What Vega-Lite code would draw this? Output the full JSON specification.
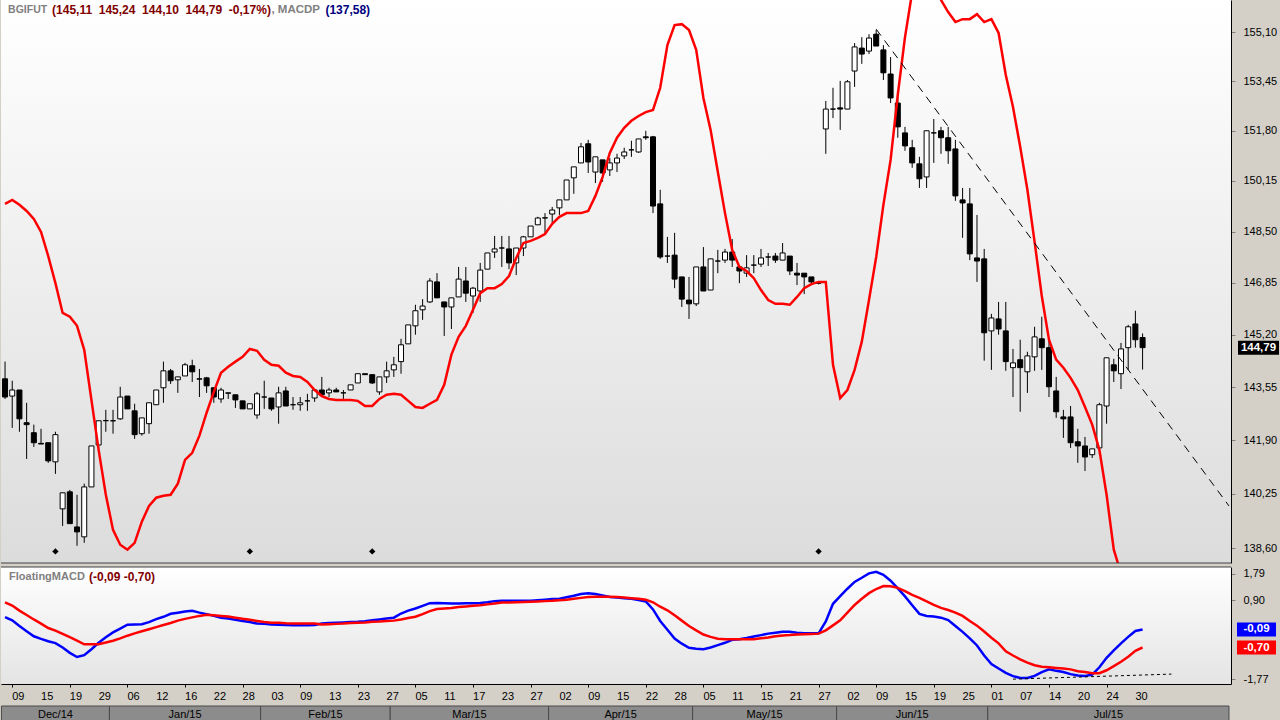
{
"$schema":"https://vega.github.io/schema/vega-lite/v6.json",
"background":"#d4d0c8",
"padding":0,
"spacing":2,
"config":{"font":"Liberation Sans","axis":{"labelFont":"Liberation Sans","labelFontSize":11,"labelColor":"#000000","domainColor":"#000000","tickColor":"#808080","grid":false,"title":null}},
"datasets":{
"bars":[
{"date":"2014-12-08","open":143.81,"high":144.35,"low":143.18,"close":143.24,"macdp":149.40,"macd":0.33,"signal":0.83},
{"date":"2014-12-09","open":143.27,"high":143.75,"low":142.28,"close":143.46,"macdp":149.53,"macd":0.22,"signal":0.72},
{"date":"2014-12-10","open":143.46,"high":143.46,"low":142.16,"close":142.56,"macdp":149.37,"macd":0.03,"signal":0.55},
{"date":"2014-12-11","open":142.44,"high":143.06,"low":141.32,"close":142.38,"macdp":149.17,"macd":-0.15,"signal":0.40},
{"date":"2014-12-12","open":142.13,"high":142.38,"low":141.69,"close":141.82,"macdp":148.91,"macd":-0.32,"signal":0.25},
{"date":"2014-12-15","open":141.80,"high":142.25,"low":141.78,"close":141.78,"macdp":148.49,"macd":-0.41,"signal":0.11},
{"date":"2014-12-16","open":141.82,"high":141.82,"low":141.20,"close":141.26,"macdp":147.71,"macd":-0.49,"signal":-0.04},
{"date":"2014-12-17","open":141.23,"high":142.16,"low":140.86,"close":142.07,"macdp":146.84,"macd":-0.55,"signal":-0.13,"sig":1},
{"date":"2014-12-18","open":139.79,"high":140.28,"low":139.27,"close":140.28,"macdp":145.89,"macd":-0.70,"signal":-0.24},
{"date":"2014-12-19","open":140.31,"high":140.37,"low":139.34,"close":139.34,"macdp":145.77,"macd":-0.88,"signal":-0.35},
{"date":"2014-12-22","open":139.24,"high":140.22,"low":138.67,"close":139.09,"macdp":145.48,"macd":-1.02,"signal":-0.47},
{"date":"2014-12-23","open":138.94,"high":140.56,"low":138.76,"close":140.46,"macdp":144.72,"macd":-0.96,"signal":-0.59},
{"date":"2014-12-26","open":140.46,"high":141.72,"low":140.46,"close":141.72,"macdp":143.15,"macd":-0.76,"signal":-0.59},
{"date":"2014-12-29","open":141.75,"high":142.50,"low":141.51,"close":142.50,"macdp":141.60,"macd":-0.54,"signal":-0.59},
{"date":"2014-12-30","open":142.50,"high":142.84,"low":142.16,"close":142.51,"macdp":140.22,"macd":-0.35,"signal":-0.53},
{"date":"2015-01-02","open":142.50,"high":142.84,"low":142.10,"close":142.50,"macdp":139.15,"macd":-0.19,"signal":-0.47},
{"date":"2015-01-05","open":142.56,"high":143.56,"low":142.53,"close":143.24,"macdp":138.70,"macd":-0.06,"signal":-0.39},
{"date":"2015-01-06","open":143.27,"high":143.27,"low":142.87,"close":142.87,"macdp":138.55,"macd":0.07,"signal":-0.30},
{"date":"2015-01-07","open":142.81,"high":143.03,"low":141.94,"close":142.07,"macdp":138.76,"macd":0.08,"signal":-0.22},
{"date":"2015-01-08","open":142.10,"high":142.59,"low":142.04,"close":142.59,"macdp":139.40,"macd":0.09,"signal":-0.15},
{"date":"2015-01-09","open":142.41,"high":143.06,"low":142.10,"close":143.06,"macdp":139.88,"macd":0.16,"signal":-0.08},
{"date":"2015-01-12","open":143.00,"high":143.46,"low":143.00,"close":143.46,"macdp":140.13,"macd":0.26,"signal":-0.01},
{"date":"2015-01-13","open":143.53,"high":144.35,"low":143.06,"close":144.06,"macdp":140.19,"macd":0.34,"signal":0.06},
{"date":"2015-01-14","open":144.06,"high":144.12,"low":143.65,"close":143.75,"macdp":140.22,"macd":0.44,"signal":0.13},
{"date":"2015-01-15","open":143.78,"high":143.87,"low":143.37,"close":143.87,"macdp":140.56,"macd":0.48,"signal":0.21},
{"date":"2015-01-16","open":143.90,"high":144.31,"low":143.90,"close":144.25,"macdp":141.29,"macd":0.52,"signal":0.27},
{"date":"2015-01-19","open":144.22,"high":144.41,"low":143.71,"close":144.03,"macdp":141.51,"macd":0.54,"signal":0.32},
{"date":"2015-01-20","open":143.81,"high":144.12,"low":143.24,"close":143.80,"macdp":142.04,"macd":0.48,"signal":0.37},
{"date":"2015-01-21","open":143.84,"high":143.87,"low":143.37,"close":143.59,"macdp":142.75,"macd":0.43,"signal":0.41},
{"date":"2015-01-22","open":143.53,"high":143.53,"low":143.06,"close":143.24,"macdp":143.40,"macd":0.37,"signal":0.39},
{"date":"2015-01-23","open":143.18,"high":143.53,"low":143.06,"close":143.46,"macdp":144.00,"macd":0.31,"signal":0.37},
{"date":"2015-01-26","open":143.37,"high":143.37,"low":143.18,"close":143.36,"macdp":144.19,"macd":0.28,"signal":0.35},
{"date":"2015-01-27","open":143.31,"high":143.31,"low":142.90,"close":143.15,"macdp":144.35,"macd":0.24,"signal":0.31},
{"date":"2015-01-28","open":143.12,"high":143.12,"low":142.87,"close":142.87,"macdp":144.50,"macd":0.20,"signal":0.27},
{"date":"2015-01-29","open":142.87,"high":143.03,"low":142.87,"close":143.03,"macdp":144.75,"macd":0.16,"signal":0.24,"sig":1},
{"date":"2015-01-30","open":142.68,"high":143.40,"low":142.56,"close":143.34,"macdp":144.69,"macd":0.11,"signal":0.20},
{"date":"2015-02-02","open":143.24,"high":143.75,"low":142.87,"close":143.24,"macdp":144.41,"macd":0.10,"signal":0.16},
{"date":"2015-02-03","open":143.21,"high":143.21,"low":142.81,"close":142.87,"macdp":144.25,"macd":0.08,"signal":0.14},
{"date":"2015-02-04","open":142.93,"high":143.56,"low":142.41,"close":143.37,"macdp":144.22,"macd":0.07,"signal":0.14},
{"date":"2015-02-05","open":143.43,"high":143.56,"low":142.96,"close":142.96,"macdp":144.00,"macd":0.06,"signal":0.12},
{"date":"2015-02-06","open":143.00,"high":143.24,"low":142.84,"close":143.00,"macdp":143.90,"macd":0.05,"signal":0.11},
{"date":"2015-02-09","open":143.00,"high":143.24,"low":142.81,"close":143.06,"macdp":143.87,"macd":0.05,"signal":0.11},
{"date":"2015-02-10","open":143.12,"high":143.34,"low":142.81,"close":143.12,"macdp":143.71,"macd":0.05,"signal":0.11},
{"date":"2015-02-11","open":143.21,"high":143.46,"low":143.09,"close":143.46,"macdp":143.46,"macd":0.06,"signal":0.11},
{"date":"2015-02-12","open":143.46,"high":143.87,"low":143.31,"close":143.31,"macdp":143.27,"macd":0.11,"signal":0.08},
{"date":"2015-02-13","open":143.37,"high":143.53,"low":143.24,"close":143.46,"macdp":143.18,"macd":0.13,"signal":0.09},
{"date":"2015-02-18","open":143.46,"high":143.53,"low":143.40,"close":143.40,"macdp":143.15,"macd":0.14,"signal":0.10},
{"date":"2015-02-19","open":143.37,"high":143.46,"low":143.18,"close":143.37,"macdp":143.15,"macd":0.15,"signal":0.11},
{"date":"2015-02-20","open":143.46,"high":143.62,"low":143.46,"close":143.62,"macdp":143.15,"macd":0.16,"signal":0.13},
{"date":"2015-02-23","open":143.68,"high":143.97,"low":143.68,"close":143.97,"macdp":143.12,"macd":0.17,"signal":0.14},
{"date":"2015-02-24","open":143.97,"high":143.97,"low":143.94,"close":143.94,"macdp":142.96,"macd":0.19,"signal":0.15},
{"date":"2015-02-25","open":143.94,"high":143.94,"low":143.65,"close":143.68,"macdp":142.96,"macd":0.22,"signal":0.17,"sig":1},
{"date":"2015-02-26","open":143.40,"high":143.87,"low":143.31,"close":143.87,"macdp":143.18,"macd":0.25,"signal":0.18},
{"date":"2015-02-27","open":143.87,"high":144.35,"low":143.68,"close":144.06,"macdp":143.31,"macd":0.28,"signal":0.20},
{"date":"2015-03-02","open":144.09,"high":144.50,"low":143.87,"close":144.25,"macdp":143.34,"macd":0.31,"signal":0.21},
{"date":"2015-03-03","open":144.35,"high":145.07,"low":143.97,"close":144.88,"macdp":143.31,"macd":0.45,"signal":0.25},
{"date":"2015-03-04","open":144.91,"high":145.51,"low":144.91,"close":145.51,"macdp":143.12,"macd":0.55,"signal":0.30},
{"date":"2015-03-05","open":145.48,"high":146.15,"low":145.20,"close":145.96,"macdp":142.93,"macd":0.62,"signal":0.34},
{"date":"2015-03-06","open":145.99,"high":146.33,"low":145.67,"close":146.11,"macdp":142.90,"macd":0.71,"signal":0.43},
{"date":"2015-03-09","open":146.24,"high":147.00,"low":146.21,"close":146.91,"macdp":143.03,"macd":0.80,"signal":0.53},
{"date":"2015-03-10","open":146.88,"high":147.16,"low":146.37,"close":146.37,"macdp":143.15,"macd":0.81,"signal":0.60},
{"date":"2015-03-11","open":146.24,"high":146.24,"low":145.16,"close":146.08,"macdp":143.62,"macd":0.80,"signal":0.62},
{"date":"2015-03-12","open":146.08,"high":146.37,"low":145.38,"close":146.37,"macdp":144.57,"macd":0.79,"signal":0.64},
{"date":"2015-03-13","open":146.40,"high":147.36,"low":146.40,"close":146.97,"macdp":145.13,"macd":0.79,"signal":0.67},
{"date":"2015-03-16","open":146.91,"high":147.36,"low":146.24,"close":146.52,"macdp":145.48,"macd":0.80,"signal":0.69},
{"date":"2015-03-17","open":146.43,"high":146.72,"low":145.89,"close":146.68,"macdp":145.99,"macd":0.80,"signal":0.71},
{"date":"2015-03-18","open":146.59,"high":147.49,"low":146.24,"close":147.26,"macdp":146.52,"macd":0.81,"signal":0.73},
{"date":"2015-03-19","open":147.29,"high":147.81,"low":147.29,"close":147.81,"macdp":146.68,"macd":0.83,"signal":0.76},
{"date":"2015-03-20","open":147.84,"high":148.36,"low":147.65,"close":147.94,"macdp":146.68,"macd":0.87,"signal":0.79},
{"date":"2015-03-23","open":147.97,"high":148.36,"low":147.36,"close":147.97,"macdp":146.81,"macd":0.88,"signal":0.82},
{"date":"2015-03-24","open":147.94,"high":148.36,"low":147.29,"close":147.49,"macdp":147.07,"macd":0.88,"signal":0.82},
{"date":"2015-03-25","open":147.49,"high":147.97,"low":147.10,"close":147.97,"macdp":147.65,"macd":0.88,"signal":0.83},
{"date":"2015-03-26","open":147.97,"high":148.36,"low":147.71,"close":148.33,"macdp":148.13,"macd":0.88,"signal":0.84},
{"date":"2015-03-27","open":148.33,"high":148.68,"low":148.33,"close":148.68,"macdp":148.20,"macd":0.88,"signal":0.85},
{"date":"2015-03-30","open":148.72,"high":148.98,"low":148.72,"close":148.94,"macdp":148.30,"macd":0.90,"signal":0.86},
{"date":"2015-03-31","open":148.94,"high":149.10,"low":148.46,"close":148.95,"macdp":148.42,"macd":0.92,"signal":0.87},
{"date":"2015-04-01","open":149.07,"high":149.30,"low":148.78,"close":149.20,"macdp":148.75,"macd":0.94,"signal":0.88},
{"date":"2015-04-02","open":149.27,"high":149.53,"low":149.04,"close":149.53,"macdp":148.98,"macd":0.95,"signal":0.90},
{"date":"2015-04-06","open":149.53,"high":150.18,"low":149.53,"close":150.18,"macdp":149.10,"macd":1.00,"signal":0.92},
{"date":"2015-04-07","open":150.25,"high":150.61,"low":149.73,"close":150.61,"macdp":149.10,"macd":1.05,"signal":0.95},
{"date":"2015-04-08","open":150.74,"high":151.40,"low":150.74,"close":151.27,"macdp":149.10,"macd":1.11,"signal":0.98},
{"date":"2015-04-09","open":151.37,"high":151.50,"low":150.41,"close":150.77,"macdp":149.17,"macd":1.14,"signal":1.01},
{"date":"2015-04-10","open":150.44,"high":150.94,"low":150.08,"close":150.94,"macdp":149.66,"macd":1.11,"signal":1.02},
{"date":"2015-04-13","open":150.84,"high":150.84,"low":150.12,"close":150.41,"macdp":150.28,"macd":1.06,"signal":1.02},
{"date":"2015-04-14","open":150.51,"high":150.90,"low":150.31,"close":150.74,"macdp":151.07,"macd":1.01,"signal":1.02},
{"date":"2015-04-15","open":150.74,"high":151.04,"low":150.44,"close":150.90,"macdp":151.57,"macd":0.99,"signal":1.01},
{"date":"2015-04-16","open":150.97,"high":151.24,"low":150.87,"close":151.10,"macdp":151.90,"macd":0.97,"signal":0.99},
{"date":"2015-04-17","open":151.17,"high":151.47,"low":150.94,"close":151.17,"macdp":152.13,"macd":0.95,"signal":0.97},
{"date":"2015-04-20","open":151.10,"high":151.53,"low":151.07,"close":151.53,"macdp":152.29,"macd":0.91,"signal":0.95},
{"date":"2015-04-22","open":151.60,"high":151.80,"low":151.50,"close":151.57,"macdp":152.42,"macd":0.86,"signal":0.92},
{"date":"2015-04-23","open":151.60,"high":151.63,"low":149.10,"close":149.33,"macdp":152.49,"macd":0.59,"signal":0.83},
{"date":"2015-04-24","open":149.40,"high":149.86,"low":147.62,"close":147.68,"macdp":153.23,"macd":0.20,"signal":0.68},
{"date":"2015-04-27","open":147.71,"high":148.33,"low":147.49,"close":147.71,"macdp":154.66,"macd":-0.10,"signal":0.56},
{"date":"2015-04-28","open":147.74,"high":148.46,"low":146.68,"close":146.97,"macdp":155.34,"macd":-0.40,"signal":0.39},
{"date":"2015-04-29","open":147.04,"high":147.04,"low":146.08,"close":146.33,"macdp":155.37,"macd":-0.57,"signal":0.21},
{"date":"2015-04-30","open":146.30,"high":147.04,"low":145.70,"close":146.18,"macdp":155.17,"macd":-0.71,"signal":0.03},
{"date":"2015-05-04","open":146.18,"high":147.36,"low":146.11,"close":147.36,"macdp":154.50,"macd":-0.74,"signal":-0.12},
{"date":"2015-05-05","open":147.36,"high":148.00,"low":146.59,"close":146.59,"macdp":152.89,"macd":-0.76,"signal":-0.26},
{"date":"2015-05-06","open":146.62,"high":147.62,"low":146.62,"close":147.62,"macdp":151.83,"macd":-0.70,"signal":-0.34},
{"date":"2015-05-07","open":147.55,"high":147.91,"low":147.16,"close":147.55,"macdp":150.45,"macd":-0.62,"signal":-0.40},
{"date":"2015-05-08","open":147.58,"high":147.94,"low":147.49,"close":147.84,"macdp":149.10,"macd":-0.54,"signal":-0.42},
{"date":"2015-05-11","open":147.84,"high":148.26,"low":147.36,"close":147.58,"macdp":147.91,"macd":-0.44,"signal":-0.42},
{"date":"2015-05-12","open":147.36,"high":147.36,"low":146.84,"close":147.23,"macdp":147.36,"macd":-0.42,"signal":-0.42},
{"date":"2015-05-13","open":147.16,"high":147.74,"low":147.04,"close":147.33,"macdp":147.23,"macd":-0.38,"signal":-0.42},
{"date":"2015-05-14","open":147.42,"high":147.74,"low":147.16,"close":147.42,"macdp":147.00,"macd":-0.33,"signal":-0.42},
{"date":"2015-05-15","open":147.45,"high":147.94,"low":147.36,"close":147.65,"macdp":146.62,"macd":-0.28,"signal":-0.39},
{"date":"2015-05-18","open":147.68,"high":147.81,"low":147.39,"close":147.68,"macdp":146.30,"macd":-0.23,"signal":-0.36},
{"date":"2015-05-19","open":147.71,"high":147.81,"low":147.49,"close":147.58,"macdp":146.18,"macd":-0.20,"signal":-0.32},
{"date":"2015-05-20","open":147.58,"high":148.13,"low":147.58,"close":147.81,"macdp":146.18,"macd":-0.17,"signal":-0.29},
{"date":"2015-05-21","open":147.71,"high":147.71,"low":147.10,"close":147.23,"macdp":146.15,"macd":-0.17,"signal":-0.28},
{"date":"2015-05-22","open":147.16,"high":147.49,"low":146.78,"close":147.10,"macdp":146.40,"macd":-0.20,"signal":-0.26},
{"date":"2015-05-25","open":147.16,"high":147.16,"low":146.49,"close":147.04,"macdp":146.68,"macd":-0.22,"signal":-0.25},
{"date":"2015-05-26","open":147.04,"high":147.04,"low":146.84,"close":146.88,"macdp":146.81,"macd":-0.22,"signal":-0.24},
{"date":"2015-05-27","open":146.84,"high":146.90,"low":146.80,"close":146.84,"macdp":146.88,"macd":-0.22,"signal":-0.23,"sig":1},
{"date":"2015-05-28","open":151.86,"high":152.79,"low":151.04,"close":152.52,"macdp":146.88,"macd":0.18,"signal":-0.12},
{"date":"2015-05-29","open":152.52,"high":153.23,"low":152.22,"close":152.52,"macdp":144.25,"macd":0.78,"signal":0.05},
{"date":"2015-06-01","open":152.56,"high":153.46,"low":151.83,"close":152.52,"macdp":143.21,"macd":1.04,"signal":0.22},
{"date":"2015-06-02","open":152.52,"high":153.49,"low":152.52,"close":153.43,"macdp":143.46,"macd":1.29,"signal":0.48},
{"date":"2015-06-03","open":153.79,"high":154.73,"low":153.26,"close":154.60,"macdp":144.09,"macd":1.52,"signal":0.74},
{"date":"2015-06-05","open":154.56,"high":154.93,"low":154.03,"close":154.36,"macdp":144.98,"macd":1.66,"signal":0.95},
{"date":"2015-06-08","open":154.46,"high":155.03,"low":154.36,"close":154.90,"macdp":146.30,"macd":1.81,"signal":1.14},
{"date":"2015-06-09","open":155.03,"high":155.17,"low":154.63,"close":154.63,"macdp":147.68,"macd":1.86,"signal":1.28},
{"date":"2015-06-10","open":154.50,"high":154.66,"low":153.49,"close":153.73,"macdp":149.37,"macd":1.76,"signal":1.38},
{"date":"2015-06-11","open":153.69,"high":154.26,"low":152.72,"close":152.89,"macdp":150.84,"macd":1.56,"signal":1.37},
{"date":"2015-06-12","open":152.72,"high":152.92,"low":151.57,"close":151.93,"macdp":153.00,"macd":1.30,"signal":1.32},
{"date":"2015-06-15","open":151.73,"high":151.93,"low":151.14,"close":151.30,"macdp":154.93,"macd":1.03,"signal":1.21},
{"date":"2015-06-16","open":151.24,"high":151.50,"low":150.58,"close":150.74,"macdp":156.46,"macd":0.73,"signal":1.08},
{"date":"2015-06-17","open":150.71,"high":150.94,"low":149.92,"close":150.22,"macdp":157.21,"macd":0.44,"signal":0.98},
{"date":"2015-06-18","open":150.28,"high":151.80,"low":149.92,"close":151.80,"macdp":157.56,"macd":0.37,"signal":0.86},
{"date":"2015-06-19","open":151.73,"high":152.19,"low":150.74,"close":151.73,"macdp":157.21,"macd":0.35,"signal":0.74},
{"date":"2015-06-22","open":151.80,"high":151.93,"low":151.04,"close":151.57,"macdp":156.19,"macd":0.31,"signal":0.64},
{"date":"2015-06-23","open":151.57,"high":151.93,"low":150.71,"close":151.14,"macdp":155.78,"macd":0.23,"signal":0.57},
{"date":"2015-06-24","open":151.20,"high":151.50,"low":149.50,"close":149.66,"macdp":155.44,"macd":0.03,"signal":0.48},
{"date":"2015-06-25","open":149.53,"high":149.92,"low":148.30,"close":149.43,"macdp":155.54,"macd":-0.17,"signal":0.37},
{"date":"2015-06-26","open":149.40,"high":149.92,"low":147.58,"close":147.78,"macdp":155.54,"macd":-0.39,"signal":0.20},
{"date":"2015-06-29","open":147.65,"high":149.04,"low":146.88,"close":147.55,"macdp":155.71,"macd":-0.63,"signal":0.04},
{"date":"2015-06-30","open":147.62,"high":147.94,"low":144.38,"close":145.26,"macdp":155.44,"macd":-0.97,"signal":-0.16},
{"date":"2015-07-01","open":145.32,"high":145.86,"low":144.09,"close":145.73,"macdp":155.54,"macd":-1.26,"signal":-0.37},
{"date":"2015-07-02","open":145.70,"high":146.24,"low":145.20,"close":145.38,"macdp":155.07,"macd":-1.41,"signal":-0.56},
{"date":"2015-07-03","open":145.32,"high":146.24,"low":144.06,"close":144.35,"macdp":153.66,"macd":-1.56,"signal":-0.83},
{"date":"2015-07-06","open":144.16,"high":144.75,"low":143.24,"close":144.31,"macdp":152.59,"macd":-1.67,"signal":-0.97},
{"date":"2015-07-07","open":144.41,"high":145.04,"low":142.78,"close":144.16,"macdp":151.27,"macd":-1.73,"signal":-1.10},
{"date":"2015-07-08","open":144.03,"high":144.66,"low":143.37,"close":144.53,"macdp":149.86,"macd":-1.73,"signal":-1.21},
{"date":"2015-07-10","open":144.50,"high":145.45,"low":144.06,"close":145.13,"macdp":148.17,"macd":-1.66,"signal":-1.30},
{"date":"2015-07-13","open":145.07,"high":145.77,"low":144.09,"close":144.79,"macdp":146.43,"macd":-1.53,"signal":-1.35},
{"date":"2015-07-14","open":144.79,"high":145.10,"low":143.24,"close":143.56,"macdp":145.04,"macd":-1.44,"signal":-1.37},
{"date":"2015-07-15","open":143.43,"high":143.87,"low":142.59,"close":142.78,"macdp":144.41,"macd":-1.49,"signal":-1.39},
{"date":"2015-07-16","open":142.62,"high":142.84,"low":141.97,"close":142.56,"macdp":144.16,"macd":-1.53,"signal":-1.41},
{"date":"2015-07-17","open":142.62,"high":142.96,"low":141.66,"close":141.82,"macdp":143.84,"macd":-1.60,"signal":-1.44},
{"date":"2015-07-20","open":141.85,"high":142.25,"low":141.20,"close":141.72,"macdp":143.46,"macd":-1.65,"signal":-1.50},
{"date":"2015-07-21","open":141.72,"high":142.00,"low":140.95,"close":141.38,"macdp":142.93,"macd":-1.66,"signal":-1.53},
{"date":"2015-07-22","open":141.45,"high":141.63,"low":141.35,"close":141.63,"macdp":142.38,"macd":-1.62,"signal":-1.57},
{"date":"2015-07-23","open":141.66,"high":143.06,"low":141.45,"close":143.00,"macdp":141.60,"macd":-1.37,"signal":-1.57},
{"date":"2015-07-24","open":142.96,"high":144.47,"low":142.41,"close":144.47,"macdp":140.22,"macd":-1.05,"signal":-1.47},
{"date":"2015-07-27","open":144.25,"high":144.44,"low":143.71,"close":144.06,"macdp":138.55,"macd":-0.80,"signal":-1.33},
{"date":"2015-07-28","open":143.97,"high":144.94,"low":143.49,"close":144.75,"macdp":137.84,"macd":-0.56,"signal":-1.18},
{"date":"2015-07-29","open":144.79,"high":145.51,"low":144.09,"close":145.45,"macdp":137.72,"macd":-0.34,"signal":-1.01},
{"date":"2015-07-30","open":145.54,"high":145.96,"low":144.79,"close":145.04,"macdp":137.64,"macd":-0.14,"signal":-0.81},
{"date":"2015-07-31","open":145.11,"high":145.24,"low":144.10,"close":144.79,"macdp":137.58,"macd":-0.09,"signal":-0.70}
],
"trend":[{"bar":122,"price":155.2},{"bar":171,"price":139.88}],
"support":[{"bar":141,"value":-1.77},{"bar":163,"value":-1.6}]
},
"vconcat":[
{
"width":1230,"height":563,
"view":{"stroke":null,"fill":{"gradient":"linear","x1":0,"y1":0,"x2":0,"y2":1,"stops":[{"offset":0,"color":"#ffffff"},{"offset":1,"color":"#dcdcdc"}]}},
"data":{"name":"bars"},
"transform":[{"window":[{"op":"row_number","as":"t"}]}],
"layer":[
{"mark":{"type":"rule","color":"#000000","strokeWidth":1},
 "encoding":{
  "x":{"field":"t","type":"quantitative","scale":{"domain":[0.44,171.28],"nice":false,"zero":false,"padding":0},"axis":null},
  "y":{"field":"low","type":"quantitative","scale":{"type":"log","domain":[138.15,156.19],"nice":false,"zero":false},
       "axis":{"orient":"right","values":[138.6,140.25,141.9,143.55,145.2,146.85,148.5,150.15,151.8,153.45,155.1],"labelExpr":"replace(format(datum.value,'.2f'),'.',',')","tickSize":4,"labelPadding":8,"title":null}},
  "y2":{"field":"high"}}},
{"mark":{"type":"bar","width":5,"stroke":"#000000","strokeWidth":1},
 "encoding":{
  "x":{"field":"t","type":"quantitative","scale":{"domain":[0.44,171.28],"nice":false,"zero":false,"padding":0}},
  "y":{"field":"open","type":"quantitative","scale":{"type":"log","domain":[138.15,156.19],"nice":false,"zero":false}},
  "y2":{"field":"close"},
  "fill":{"condition":{"test":"datum.close >= datum.open","value":"#ffffff"},"value":"#000000"}}},
{"mark":{"type":"line","color":"#ff0000","strokeWidth":2.5,"clip":true},
 "encoding":{
  "x":{"field":"t","type":"quantitative","scale":{"domain":[0.44,171.28],"nice":false,"zero":false,"padding":0}},
  "y":{"field":"macdp","type":"quantitative","scale":{"type":"log","domain":[138.15,156.19],"nice":false,"zero":false}}}},
{"transform":[{"filter":"datum.sig == 1"}],
 "mark":{"type":"point","shape":"diamond","filled":true,"color":"#000000","size":40,"opacity":1},
 "encoding":{
  "x":{"field":"t","type":"quantitative","scale":{"domain":[0.44,171.28],"nice":false,"zero":false,"padding":0}},
  "y":{"datum":138.5}}},
{"data":{"name":"trend"},
 "mark":{"type":"line","color":"#000000","strokeWidth":1,"strokeDash":[8,6],"clip":true},
 "encoding":{
  "x":{"field":"bar","type":"quantitative","scale":{"domain":[0.44,171.28],"nice":false,"zero":false,"padding":0}},
  "y":{"field":"price","type":"quantitative","scale":{"type":"log","domain":[138.15,156.19],"nice":false,"zero":false}}}},
{"data":{"values":[{}]},
 "mark":{"type":"rule","color":"#404040","strokeWidth":1},
 "encoding":{"y":{"datum":138.15}}},
{"data":{"values":[{}]},
 "mark":{"type":"text","text":"BGIFUT","align":"left","baseline":"middle","fontWeight":"bold","fontSize":10.5,"color":"#808080"},
 "encoding":{"x":{"datum":1.42},"y":{"datum":155.85}}},
{"data":{"values":[{}]},
 "mark":{"type":"text","text":"(145,11\u00a0 145,24\u00a0 144,10\u00a0 144,79\u00a0 -0,17%)","align":"left","baseline":"middle","fontWeight":"bold","fontSize":12,"color":"#800000"},
 "encoding":{"x":{"datum":7.53},"y":{"datum":155.85}}},
{"data":{"values":[{}]},
 "mark":{"type":"text","text":", MACDP","align":"left","baseline":"middle","fontWeight":"bold","fontSize":11.5,"color":"#808080"},
 "encoding":{"x":{"datum":38.0},"y":{"datum":155.85}}},
{"data":{"values":[{}]},
 "mark":{"type":"text","text":"(137,58)","align":"left","baseline":"middle","fontWeight":"bold","fontSize":12,"color":"#000080"},
 "encoding":{"x":{"datum":45.5},"y":{"datum":155.85}}},
{"transform":[{"joinaggregate":[{"op":"max","field":"t","as":"tmax"}]},{"filter":"datum.t == datum.tmax"}],
 "mark":{"type":"point","shape":"M-1,-0.34H1V0.34H-1Z","filled":true,"color":"#000000","size":1681,"opacity":1},
 "encoding":{"x":{"datum":175.1},"y":{"field":"close","type":"quantitative"}}},
{"transform":[{"joinaggregate":[{"op":"max","field":"t","as":"tmax"}]},{"filter":"datum.t == datum.tmax"},{"calculate":"replace(format(datum.close,'.2f'),'.',',')","as":"lbl"}],
 "mark":{"type":"text","align":"center","baseline":"middle","fontWeight":"bold","fontSize":11.5,"color":"#ffffff"},
 "encoding":{"x":{"datum":175.1},"y":{"field":"close","type":"quantitative"},"text":{"field":"lbl"}}}
]
},
{
"width":1230,"height":117,
"view":{"stroke":null,"fill":{"gradient":"linear","x1":0,"y1":0,"x2":0,"y2":1,"stops":[{"offset":0,"color":"#ffffff"},{"offset":1,"color":"#e4e4e4"}]}},
"data":{"name":"bars"},
"transform":[{"window":[{"op":"row_number","as":"t"}]}],
"layer":[
{"mark":{"type":"line","color":"#0000ff","strokeWidth":2.5},
 "encoding":{
  "x":{"field":"t","type":"quantitative","scale":{"domain":[0.44,171.28],"nice":false,"zero":false,"padding":0},
       "axis":{"orient":"bottom","values":[2,6,10,14,18,22,26,30,34,38,42,46,50,54,58,62,66,70,74,78,82,86,90,94,98,102,106,110,114,118,122,126,130,134,138,142,146,150,154,158],"labels":false,"tickSize":3,"tickColor":"#000000","domainColor":"#000000"}},
  "y":{"field":"macd","type":"quantitative","scale":{"domain":[-1.935,2.025],"nice":false,"zero":false},
       "axis":{"orient":"right","values":[-1.77,0.9,1.79],"labelExpr":"replace(replace(format(datum.value,'.2f'),'.',','),'\u2212','-')","tickSize":4,"labelPadding":8,"title":null}}}},
{"mark":{"type":"line","color":"#ff0000","strokeWidth":2.5},
 "encoding":{
  "x":{"field":"t","type":"quantitative","scale":{"domain":[0.44,171.28],"nice":false,"zero":false,"padding":0}},
  "y":{"field":"signal","type":"quantitative","scale":{"domain":[-1.935,2.025],"nice":false,"zero":false}}}},
{"data":{"name":"support"},
 "mark":{"type":"line","color":"#000000","strokeWidth":1,"strokeDash":[3,3]},
 "encoding":{
  "x":{"field":"bar","type":"quantitative","scale":{"domain":[0.44,171.28],"nice":false,"zero":false,"padding":0}},
  "y":{"field":"value","type":"quantitative","scale":{"domain":[-1.935,2.025],"nice":false,"zero":false}}}},
{"data":{"values":[{}]},
 "mark":{"type":"rule","color":"#404040","strokeWidth":1},
 "encoding":{"y":{"datum":2.025}}},
{"data":{"values":[{}]},
 "mark":{"type":"text","text":"FloatingMACD","align":"left","baseline":"middle","fontWeight":"bold","fontSize":11,"color":"#808080"},
 "encoding":{"x":{"datum":1.56},"y":{"datum":1.69}}},
{"data":{"values":[{}]},
 "mark":{"type":"text","text":"(-0,09 -0,70)","align":"left","baseline":"middle","fontWeight":"bold","fontSize":12,"color":"#800000"},
 "encoding":{"x":{"datum":12.67},"y":{"datum":1.69}}},
{"transform":[{"joinaggregate":[{"op":"max","field":"t","as":"tmax"}]},{"filter":"datum.t == datum.tmax"}],
 "mark":{"type":"point","shape":"M-1,-0.36H1V0.36H-1Z","filled":true,"color":"#0000ff","size":1521,"opacity":1},
 "encoding":{"x":{"datum":174.82},"y":{"field":"macd","type":"quantitative"}}},
{"transform":[{"joinaggregate":[{"op":"max","field":"t","as":"tmax"}]},{"filter":"datum.t == datum.tmax"}],
 "mark":{"type":"point","shape":"M-1,-0.36H1V0.36H-1Z","filled":true,"color":"#ff0000","size":1521,"opacity":1},
 "encoding":{"x":{"datum":174.82},"y":{"field":"signal","type":"quantitative"}}},
{"transform":[{"joinaggregate":[{"op":"max","field":"t","as":"tmax"}]},{"filter":"datum.t == datum.tmax"},{"calculate":"replace(replace(format(datum.macd,'.2f'),'.',','),'\u2212','-')","as":"lbl"}],
 "mark":{"type":"text","align":"center","baseline":"middle","fontWeight":"bold","fontSize":11.5,"color":"#ffffff"},
 "encoding":{"x":{"datum":174.82},"y":{"field":"macd","type":"quantitative"},"text":{"field":"lbl"}}},
{"transform":[{"joinaggregate":[{"op":"max","field":"t","as":"tmax"}]},{"filter":"datum.t == datum.tmax"},{"calculate":"replace(replace(format(datum.signal,'.2f'),'.',','),'\u2212','-')","as":"lbl"}],
 "mark":{"type":"text","align":"center","baseline":"middle","fontWeight":"bold","fontSize":11.5,"color":"#ffffff"},
 "encoding":{"x":{"datum":174.82},"y":{"field":"signal","type":"quantitative"},"text":{"field":"lbl"}}}
]
},
{
"width":1230,"height":13,
"view":{"stroke":null},
"data":{"name":"bars"},
"transform":[{"window":[{"op":"row_number","as":"t"}]},{"filter":"datum.t % 4 == 2"},{"calculate":"utcFormat(toDate(datum.date),'%d')","as":"day"}],
"mark":{"type":"text","align":"left","baseline":"middle","fontSize":11,"color":"#000000"},
"encoding":{
 "x":{"field":"t","type":"quantitative","scale":{"domain":[0.44,171.28],"nice":false,"zero":false,"padding":0},"axis":null},
 "text":{"field":"day"}}
},
{
"width":1230,"height":17,
"view":{"stroke":null},
"data":{"name":"bars"},
"transform":[
 {"window":[{"op":"row_number","as":"t"}]},
 {"calculate":"utcFormat(toDate(datum.date),'%b/%y')","as":"month"},
 {"aggregate":[{"op":"min","field":"t","as":"t0"},{"op":"max","field":"t","as":"t1"}],"groupby":["month"]},
 {"joinaggregate":[{"op":"max","field":"t1","as":"tl"}]},
 {"calculate":"datum.t0 - 0.5","as":"x0"},
 {"calculate":"datum.t1 == datum.tl ? 171.0 : datum.t1 + 0.5","as":"x1"},
 {"calculate":"(datum.x0 + datum.x1) / 2","as":"xm"}
],
"layer":[
{"mark":{"type":"rect","fill":"#8c8c8c","stroke":"#4a4a4a","strokeWidth":1},
 "encoding":{
  "x":{"field":"x0","type":"quantitative","scale":{"domain":[0.44,171.28],"nice":false,"zero":false,"padding":0},"axis":null},
  "x2":{"field":"x1"}}},
{"mark":{"type":"text","align":"center","baseline":"middle","fontSize":11,"color":"#000000"},
 "encoding":{
  "x":{"field":"xm","type":"quantitative","scale":{"domain":[0.44,171.28],"nice":false,"zero":false,"padding":0},"axis":null},
  "text":{"field":"month"}}}
]
}
]
}
